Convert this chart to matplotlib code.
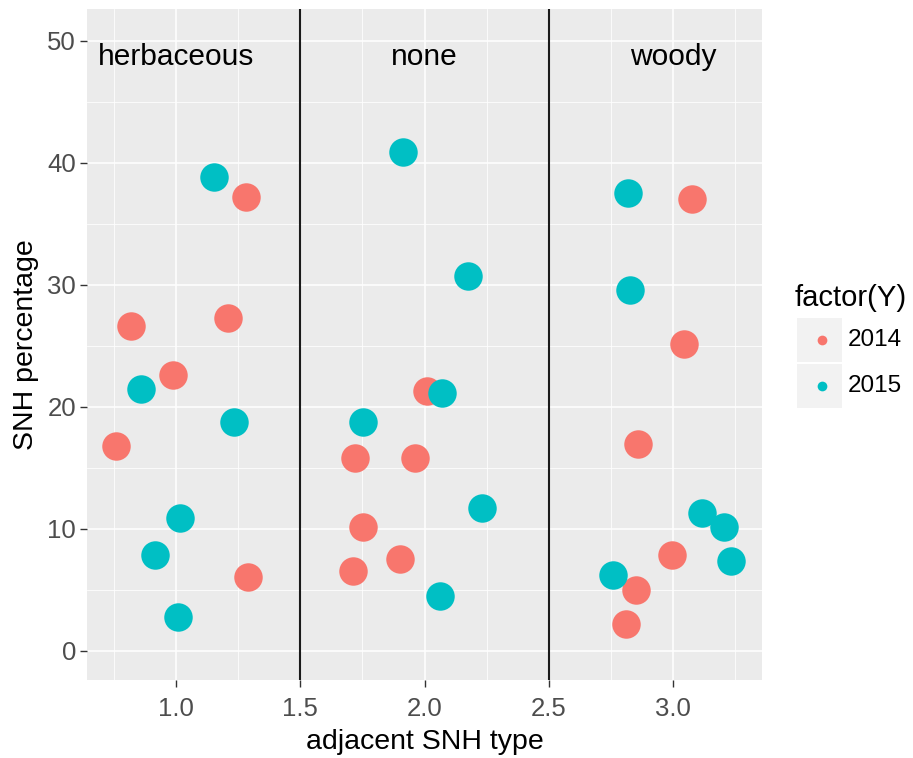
import numpy as np
import matplotlib.pyplot as plt
from matplotlib.patches import Rectangle

plt.rcParams['font.family'] = ['Liberation Sans', 'DejaVu Sans']

# jittered positions (adjacent SNH type) and SNH percentage, per year
x_2014 = [1.282, 0.819, 1.208, 0.987, 0.760, 1.288,
          2.011, 1.722, 1.962, 1.754, 1.900, 1.712,
          3.078, 3.045, 2.858, 2.997, 2.850, 2.810]
y_2014 = [37.18, 26.6, 27.25, 22.6, 16.79, 6.03,
          21.29, 15.78, 15.78, 10.16, 7.51, 6.50,
          36.99, 25.12, 16.95, 7.84, 5.00, 2.19]
x_2015 = [1.152, 0.860, 1.235, 1.015, 0.915, 1.007,
          1.915, 2.175, 2.069, 1.754, 2.233, 2.064,
          2.818, 2.826, 3.118, 3.206, 3.233, 2.760]
y_2015 = [38.85, 21.46, 18.78, 10.84, 7.84, 2.73,
          40.84, 30.7, 21.1, 18.78, 11.69, 4.50,
          37.48, 29.57, 11.28, 10.18, 7.35, 6.20]

types = ['herbaceous', 'none', 'woody']
type_pos = [1, 2, 3]
dividers = [1.5, 2.5]
years = ['2014', '2015']
colors = ['#F8766D', '#00BFC4']

W, H = 913, 758
fig = plt.figure(figsize=(W / 100, H / 100), dpi=100)
ax = fig.add_axes([87 / W, 1 - 680 / H, (762 - 87) / W, (680 - 9) / H])

ax.set_facecolor('#EBEBEB')
for s in ax.spines.values():
    s.set_visible(False)

ax.set_xlim(0.642, 3.358)
ax.set_ylim(-2.4, 52.6)
ax.set_xticks([1.0, 1.5, 2.0, 2.5, 3.0])
ax.set_xticklabels(['1.0', '1.5', '2.0', '2.5', '3.0'])
ax.set_xticks([0.75, 1.25, 1.75, 2.25, 2.75, 3.25], minor=True)
ax.set_yticks([0, 10, 20, 30, 40, 50])
ax.set_yticks([5, 15, 25, 35, 45], minor=True)
ax.grid(which='major', color='white', linewidth=1.1)
ax.grid(which='minor', color='white', linewidth=0.55)
ax.set_axisbelow(True)
ax.tick_params(which='major', length=5, width=1, color='#333333',
               labelsize=18.5, labelcolor='#4D4D4D')
ax.tick_params(axis='x', pad=7)
ax.tick_params(axis='y', pad=3)
ax.tick_params(which='minor', length=0)

for d in dividers:
    ax.axvline(d, color='#1A1A1A', linewidth=1.5)

for xs, ys, c in zip([x_2014, x_2015], [y_2014, y_2015], colors):
    ax.scatter(xs, ys, s=20.5 ** 2, color=c, marker='o', linewidths=0, zorder=3)

for t, p in zip(types, type_pos):
    ax.text(p, 48.7, t, ha='center', va='center', fontsize=21.5, color='black')

ax.set_xlabel('adjacent SNH type', fontsize=20.5, labelpad=6)
ax.set_ylabel('SNH percentage', fontsize=20.5, labelpad=6)

# legend
fig.text(795 / W, 1 - 298 / H, 'factor(Y)', fontsize=21, va='center', ha='left')
lax = fig.add_axes([797 / W, 1 - 408 / H, 45 / W, 90 / H])
lax.set_xlim(0, 45)
lax.set_ylim(90, 0)
lax.axis('off')
for i, (yr, c) in enumerate(zip(years, colors)):
    top = i * 46
    lax.add_patch(Rectangle((0, top), 45, 44, facecolor='#F2F2F2', edgecolor='none'))
    lax.scatter([24.5], [top + 22], s=7 ** 2, color=c, linewidths=0)
    fig.text(848 / W, 1 - (318 + top + 22) / H, yr, fontsize=17.5,
             va='center', ha='left')

fig.savefig('out.png', dpi=100)
